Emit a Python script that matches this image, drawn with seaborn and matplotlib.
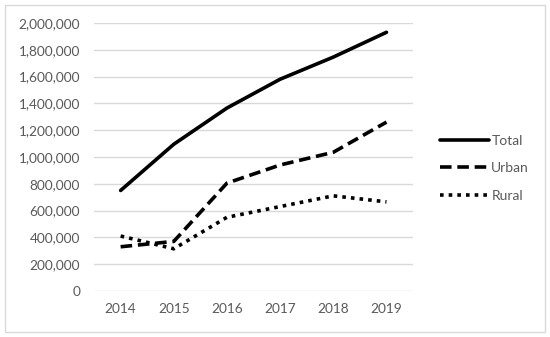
import pandas as pd
import matplotlib.pyplot as plt
import seaborn as sns
from matplotlib.ticker import FuncFormatter

years = [2014, 2015, 2016, 2017, 2018, 2019]
total = [750000, 1095000, 1365000, 1580000, 1745000, 1930000]
urban = [330000, 370000, 805000, 940000, 1035000, 1260000]
rural = [410000, 315000, 550000, 630000, 710000, 665000]
areas = ["Total", "Urban", "Rural"]

df = pd.DataFrame({
    "Year": years * 3,
    "Value": total + urban + rural,
    "Area": [a for a in areas for _ in years],
})

sns.set_style("white")
plt.rcParams['font.family'] = ['Lato', 'DejaVu Sans']

fig = plt.figure(figsize=(5.5, 3.37), dpi=100)
ax = fig.add_axes([0.171, 0.1365, 0.58, 0.7955])

sns.lineplot(data=df, x="Year", y="Value", style="Area", style_order=areas,
             dashes={"Total": "", "Urban": (3.2, 1.6), "Rural": (1, 1.4)},
             color="black", linewidth=2.6, ax=ax)

ax.set_ylim(0, 2000000)
ax.set_xlim(2013.5, 2019.5)
ax.set_yticks(range(0, 2000001, 200000))
ax.set_xticks(years)
ax.yaxis.set_major_formatter(FuncFormatter(lambda v, p: f"{int(v):,}"))
ax.grid(axis="y", color="#d9d9d9", linewidth=1)
ax.set_axisbelow(True)
for s in ax.spines.values():
    s.set_visible(False)
ax.tick_params(axis="both", colors="#595959", labelsize=9.8, length=0)
ax.tick_params(axis="x", pad=9)
ax.tick_params(axis="y", pad=10)
ax.set_xlabel("")
ax.set_ylabel("")

leg = ax.legend(loc="upper left", bbox_to_anchor=(1.045, 0.63), frameon=False,
                handlelength=3.5, handletextpad=0.2, labelspacing=1.12,
                fontsize=10)
for t in leg.get_texts():
    t.set_color("#595959")

fig.patches.append(plt.Rectangle((0.009, 0.015), 0.982, 0.97, transform=fig.transFigure,
                                 fill=False, edgecolor="#d9d9d9", linewidth=1))

fig.savefig("out.png", dpi=100)
